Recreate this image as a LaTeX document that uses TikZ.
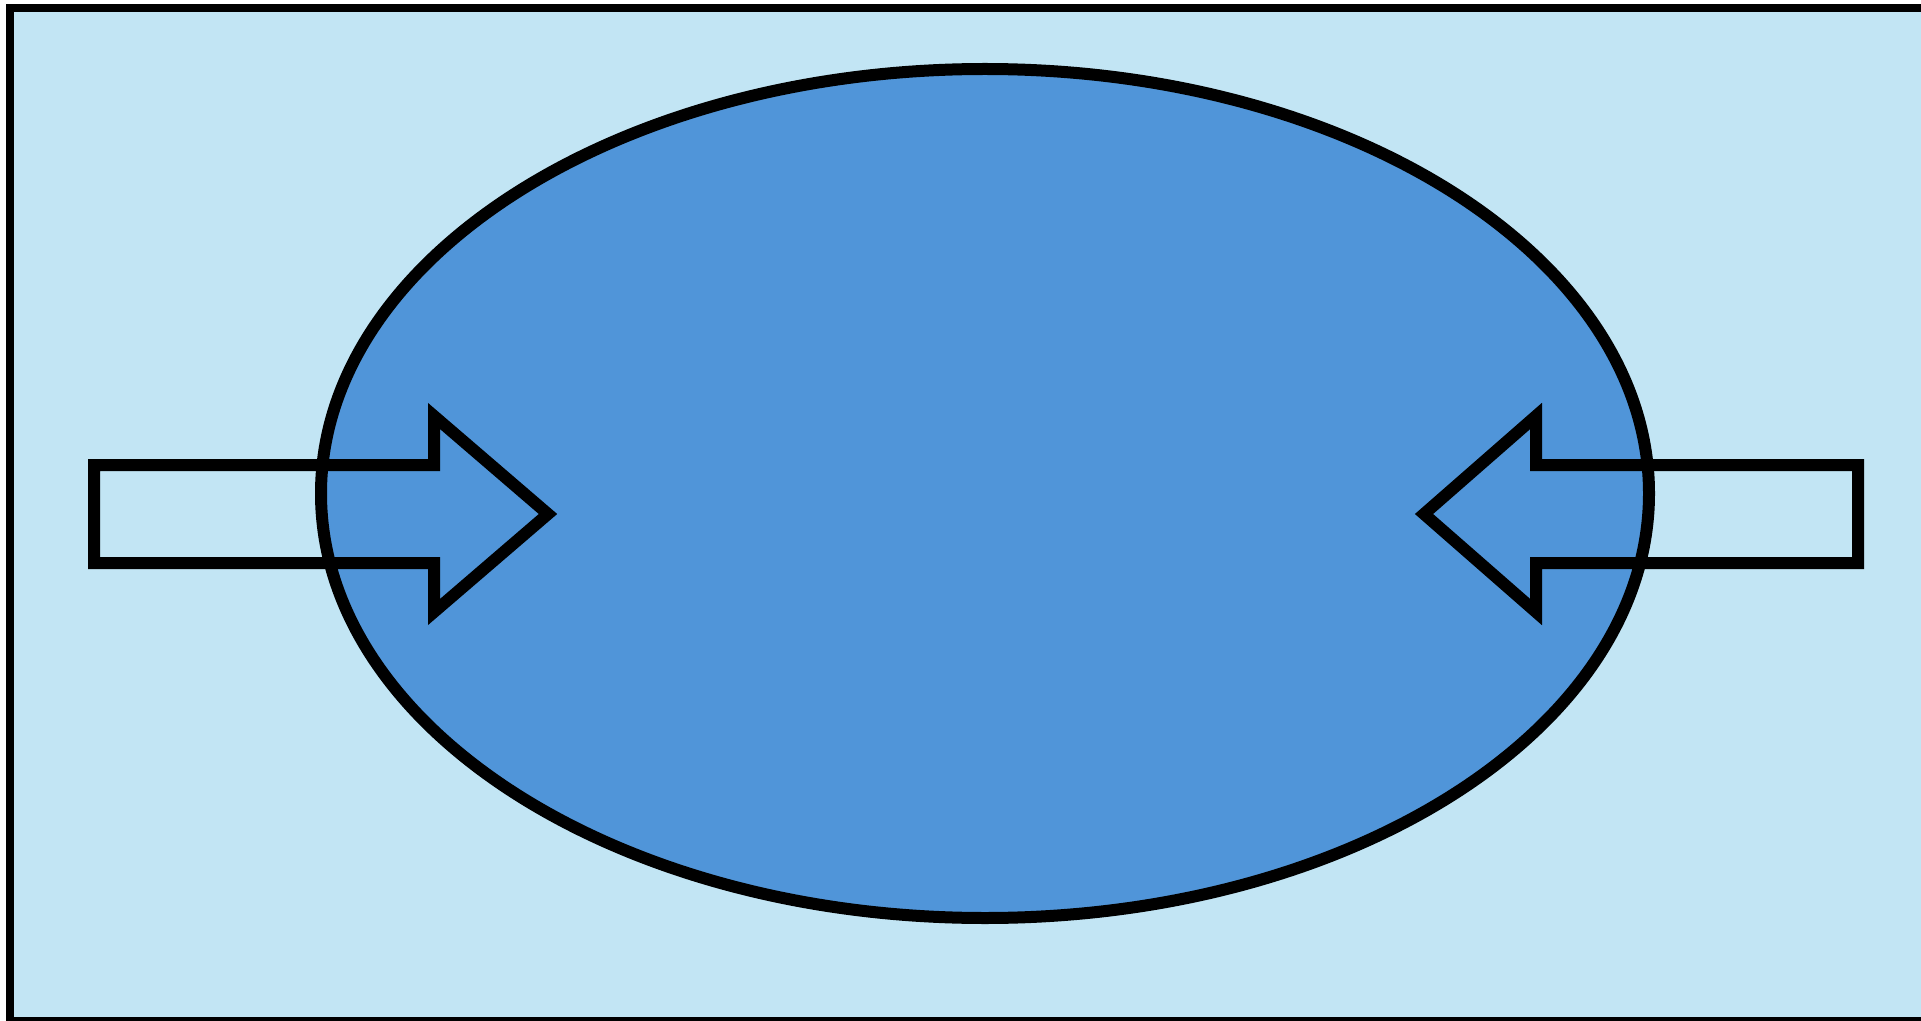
\documentclass[tikz,border=0pt]{standalone}
\usetikzlibrary{shapes.geometric}
\definecolor{bgblue}{RGB}{194,229,244}
\definecolor{ellblue}{RGB}{80,149,217}
\tikzset{
  frame/.style={draw=black, line width=4pt, fill=bgblue},
  bigoval/.style={ellipse, draw=black, line width=6pt, fill=ellblue, inner sep=0pt, outer sep=0pt},
  blockarrow/.style={draw=black, line width=6pt, line join=miter}
}
\begin{document}
\begin{tikzpicture}[x=0.5pt, y=-0.5pt]
\useasboundingbox (0,0) rectangle (1921,1021);
\clip (0,0) rectangle (1921,1021);
\fill[white] (0,0) rectangle (1921,1021);
\draw[frame] (10,8) rectangle (1930,1021);
\node[bigoval, minimum width=664pt, minimum height=424.5pt] (oval) at (985,493.5) {};
% left arrow
\coordinate (la1) at (94,465);
\coordinate (la2) at (434,465);
\coordinate (la3) at (434,416);
\coordinate (latip) at (548,514);
\coordinate (la5) at (434,612);
\coordinate (la6) at (434,563);
\coordinate (la7) at (94,563);
\draw[blockarrow] (la1) -- (la2) -- (la3) -- (latip) -- (la5) -- (la6) -- (la7) -- cycle;
% right arrow
\coordinate (ra1) at (1858,465);
\coordinate (ra2) at (1536,465);
\coordinate (ra3) at (1536,416);
\coordinate (ratip) at (1424,514);
\coordinate (ra5) at (1536,612);
\coordinate (ra6) at (1536,563);
\coordinate (ra7) at (1858,563);
\draw[blockarrow] (ra1) -- (ra2) -- (ra3) -- (ratip) -- (ra5) -- (ra6) -- (ra7) -- cycle;
\end{tikzpicture}
\end{document}
